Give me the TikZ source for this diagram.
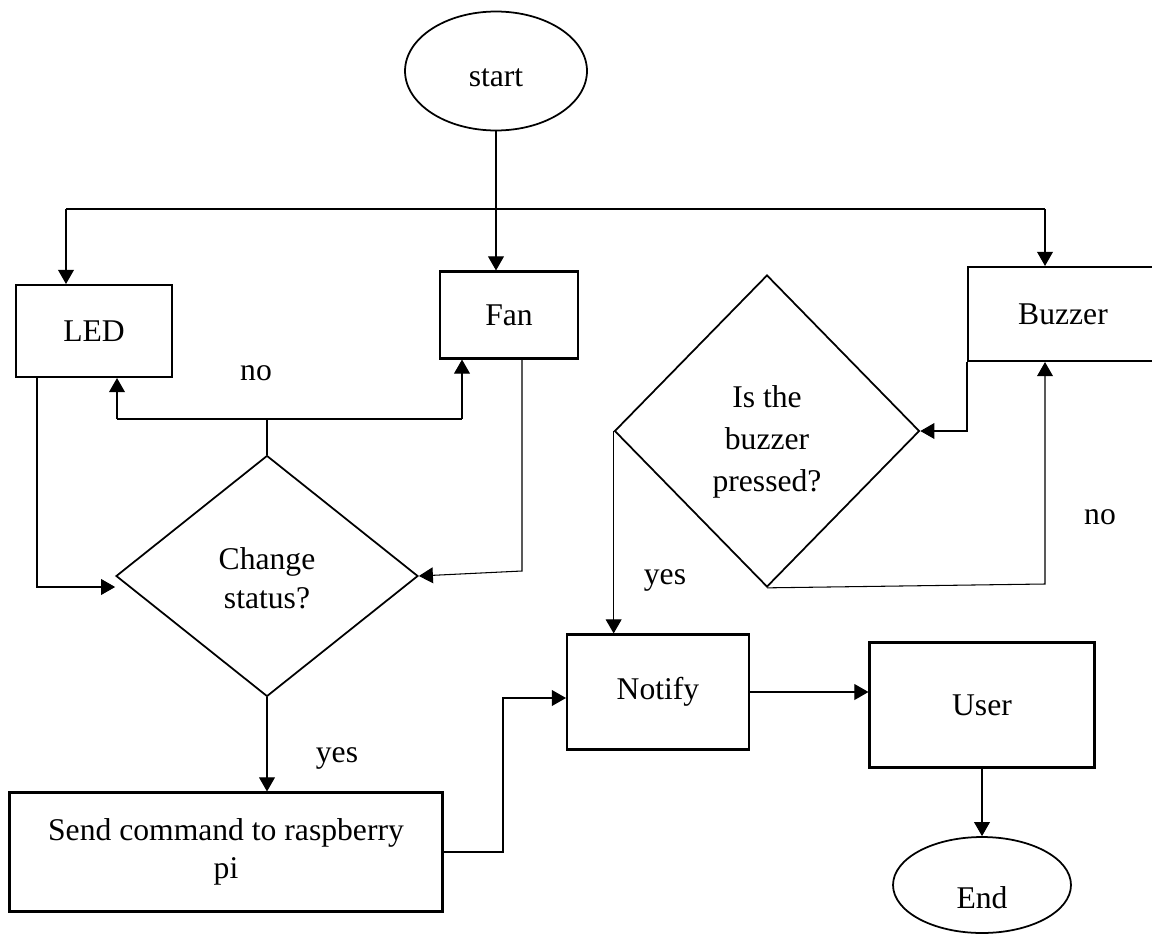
\documentclass[tikz,border=0pt]{standalone}
\usepackage{fontspec}
\setmainfont{Liberation Serif}
\usepackage{tikz}
\usetikzlibrary{
  shapes.geometric,
  arrows.meta,
  positioning
}

\begin{document}
\begin{tikzpicture}[
  x=0.02cm, y=-0.02cm,
  font=\fontsize{18}{22}\selectfont,
  procbox/.style={
    draw, line width=1.2pt,
    align=center, inner sep=0pt
  },
  terminal/.style={
    draw, ellipse, line width=1pt,
    align=center, inner sep=0pt
  },
  decision/.style={
    draw, diamond, line width=1pt,
    align=center, inner sep=0pt
  },
  link/.style={line width=0.6pt},
  arrow/.style={
    -{Triangle[length=8pt, width=9pt]},
    line width=0.6pt},
  tag/.style={inner sep=1pt}
]
\useasboundingbox (0,0) rectangle (1152,933);

\node[terminal, minimum width=3.64cm, minimum height=2.38cm]
  (start) at (496,71) {\raisebox{-0.14cm}[\height][\depth]{start}};

\node[procbox, minimum width=3.12cm, minimum height=1.84cm]
  (led) at (94,331) {LED};
\node[procbox, minimum width=2.76cm, minimum height=1.74cm]
  (fan) at (509,315) {Fan};
\node[procbox, minimum width=3.8cm, minimum height=1.88cm]
  (buzz) at (1063,314) {Buzzer};

\node[decision, minimum width=6.04cm, minimum height=4.82cm]
  (chg) at (267,576) {\raisebox{-0.1cm}[\height][\depth]{%
    \begin{tabular}{@{}c@{}}Change\\status?\end{tabular}}};
\node[decision, minimum width=6.1cm, minimum height=6.24cm]
  (press) at (767,431) {\raisebox{-0.22cm}[\height][\depth]{%
    \begin{tabular}{@{}c@{}}Is the\\[2pt]buzzer\\[2pt]pressed?\end{tabular}}};

\node[procbox, minimum width=8.66cm, minimum height=2.38cm]
  (send) at (226,852) {Send command to raspberry\\pi};
\node[procbox, minimum width=3.64cm, minimum height=2.3cm]
  (notify) at (658,692) {Notify};
\node[procbox, minimum width=4.5cm, minimum height=2.5cm]
  (user) at (982,705) {User};
\node[terminal, minimum width=3.56cm, minimum height=1.92cm]
  (end) at (982,885) {\raisebox{-0.26cm}[\height][\depth]{End}};

\node[tag] (no1) at (256,373) {no};
\node[tag] (no2) at (1100,517) {no};
\node[tag] (yes1) at (337,758) {yes};
\node[tag] (yes2) at (665,580) {yes};

% distribution line from start
\coordinate (busL) at (66,209);
\coordinate (busR) at (1045,209);
\draw[link] (busL) -- (busR);
\draw[arrow] (start.south) -- (start.south |- fan.north);
\draw[arrow] (busL) -- (busL |- led.north);
\draw[arrow] (busR) -- (busR |- buzz.north);

% no branch back to LED and Fan
\coordinate (noL) at (117,419);
\coordinate (noR) at (462,419);
\draw[link] (chg.north) -- (chg.north |- noL);
\draw[link] (noL) -- (noR);
\draw[arrow] (noL) -- (noL |- led.south);
\draw[arrow] (noR) -- (noR |- fan.south);

\coordinate (ledD) at (37,587);
\draw[arrow] (ledD |- led.south) -- (ledD) -- (ledD -| chg.west);
\coordinate (fanD) at (522,571);
\draw[arrow] (fanD |- fan.south) -- (fanD) -- (chg.east);

\draw[arrow] (chg.south) -- (chg.south |- send.north);

\coordinate (jog) at (503,698);
\draw[arrow] (send.east) -| (jog) -- (jog -| notify.west);
\draw[arrow] (notify.east) -- (notify.east -| user.west);
\draw[arrow] (user.south) -- (end.north);

% buzzer loop
\draw[arrow] (buzz.south west) |- (press.east);
\coordinate (pressR) at (1045,584);
\draw[arrow] (press.south) -- (pressR) -- (pressR |- buzz.south);
\draw[arrow] (press.west) -- (press.west |- notify.north);

\end{tikzpicture}
\end{document}
